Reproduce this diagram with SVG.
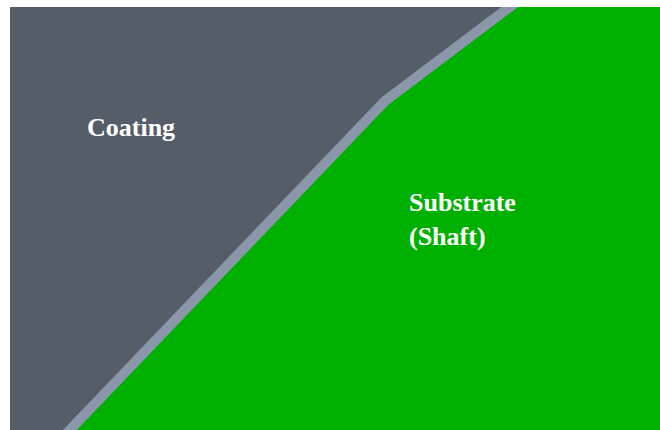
<svg xmlns="http://www.w3.org/2000/svg" width="660" height="430" viewBox="0 0 660 430">
<style>
.lbl{font-family:"Liberation Serif","Times New Roman",serif;font-weight:bold;font-size:26px;fill:#ffffff}
</style>
<rect x="0" y="0" width="660" height="430" fill="#ffffff"/>
<g id="coating">
<rect x="10" y="7" width="650" height="423" fill="#555d69"/>
<text class="lbl" x="87" y="136">Coating</text>
</g>
<g id="substrate">
<polygon points="509,7 660,7 660,430 70,430 386,100" fill="#00b000"/>
<text class="lbl" x="409" y="211">Substrate</text>
<text class="lbl" x="409" y="245">(Shaft)</text>
</g>
<g id="interface">
<polyline points="515,3 385,101 66,434" fill="none" stroke="#8a97ab" stroke-width="10" stroke-linejoin="round"/>
</g>
<rect x="0" y="0" width="660" height="7" fill="#ffffff"/>
</svg>
